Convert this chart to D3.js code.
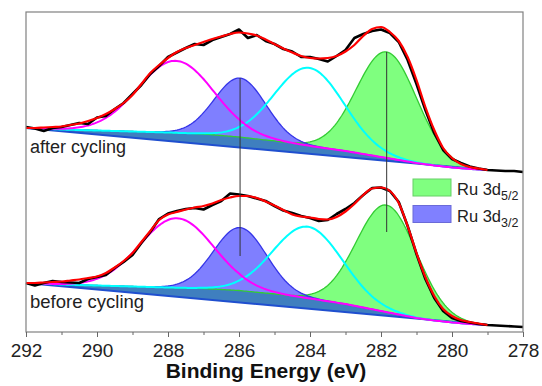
<!DOCTYPE html>
<html>
<head>
<meta charset="utf-8">
<script src="https://cdn.jsdelivr.net/npm/d3@7/dist/d3.min.js"></script>
<style>
  body { margin: 0; background: #fff; }
  text { font-family: "Liberation Sans", Arial, sans-serif; }
</style>
</head>
<body>
<svg id="chart" width="542" height="386"></svg>
<script>
// binding energies of the measured points (eV)
const energies = [292, 291.75, 291.5, 291.25, 291, 290.75, 290.5, 290.25, 290, 289.75, 289.5, 289.25,
  289, 288.75, 288.5, 288.25, 288, 287.75, 287.5, 287.25, 287, 286.75, 286.5, 286.25,
  286, 285.75, 285.5, 285.25, 285, 284.75, 284.5, 284.25, 284, 283.75, 283.5, 283.25,
  283, 282.75, 282.5, 282.25, 282, 281.75, 281.5, 281.25, 281, 280.75, 280.5, 280.25,
  280, 279.75, 279.5, 279.25, 279, 278.75, 278.5, 278.25, 278];

// raw spectra (a.u., stacked)
const afterRaw = [204, 202.5, 200, 203, 204, 206, 208, 207, 213.5, 215, 222, 228,
  237, 246, 257, 265, 274, 278.5, 283, 287, 286, 291, 294, 297,
  301.5, 293, 296, 290, 287, 282, 279.5, 274, 274, 272, 269.5, 275,
  281, 293, 297, 300, 301.5, 298, 289, 271, 247, 221, 198, 181,
  172, 168, 164.5, 162.5, 161, 160.5, 160, 160, 159];
const beforeRaw = [48, 45.5, 48, 50, 49, 48.5, 48, 52, 54, 56, 63, 69,
  76, 88, 99, 112, 117.5, 120, 122, 123, 121.5, 126, 130, 137.5,
  136.5, 135, 132.5, 130, 125, 120.5, 118, 115, 113, 110, 111, 117,
  122, 128, 136, 143, 143.5, 140, 129, 105, 77, 52, 33, 20,
  13, 10, 8.5, 7, 6, 5.5, 5, 4.5, 4];

// fitted envelopes (292 .. 279 eV)
const afterFit = [203, 203, 203.5, 204, 204.5, 206, 207.5, 210, 213, 217, 222, 228,
  236, 247, 258, 266, 273, 279, 283, 286, 289, 292, 294.5, 297,
  298.5, 297.5, 295.5, 291.5, 287, 282.5, 278.5, 275, 273, 272.5, 273, 275,
  279.5, 286, 295, 302, 304, 299, 290, 274, 251, 224, 201, 183,
  173, 167, 164, 162.5, 161];
const beforeFit = [48, 48, 48.5, 49, 49.5, 50.5, 51.5, 53, 54.5, 58, 63.5, 70,
  78, 89, 100, 111, 116.5, 119, 121.5, 123.5, 125, 127.5, 131, 133.5,
  135, 135, 133, 129.5, 125.5, 121, 116.5, 114.5, 113.5, 112, 111.5, 114,
  119.5, 127, 136, 142.5, 143.5, 140, 128, 105, 78, 54, 35, 22,
  15, 11, 9, 7.5, 6];

// Shirley-type backgrounds
const bgEnergies = [292, 291, 290, 289, 288, 287, 286, 285, 284, 283, 282, 281.5, 281, 280.5, 280, 279.5, 279];
const afterBg = [203, 201.5, 200.5, 199.5, 198.5, 197, 194, 190, 185, 180, 174, 171, 168, 165.5, 163.5, 162, 161];
const beforeBg = [48, 46.5, 45.5, 44.5, 43.5, 42.5, 40.5, 37, 32.5, 27, 20, 16.5, 13, 10.5, 8.5, 7, 6];

// linear baselines (value at 292 eV and at 279 eV)
const linearEnergies = [292, 279];
const afterLinear = [203, 161];
const beforeLinear = [48, 6];

// fitted components: C 1s (high BE), Ru 3d3/2, C 1s (C-C), Ru 3d5/2
const peakKeys = ['c1', 'ru32', 'c2', 'ru52'];
const afterCenter = [287.78, 285.97, 284.02, 281.84];
const afterHeight = [72, 59, 78, 106];
const afterFwhm = [2.5, 1.7, 2.3, 2.0];
const beforeCenter = [287.75, 285.97, 284.06, 281.84];
const beforeHeight = [69.5, 63, 71.5, 107];
const beforeFwhm = [2.45, 1.75, 2.3, 2.0];

// marker lines through Ru peaks
const markerEnergies = [285.97, 281.84];
const markerLow = [75, 99];

const xTicks = [292, 290, 288, 286, 284, 282, 280, 278];
const xMinorTicks = [291, 289, 287, 285, 283, 281, 279];

const legendLabels = [['Ru 3d', '5/2'], ['Ru 3d', '3/2']];

const W = 542, H = 386;
const margin = { left: 26, right: 19, top: 12, bottom: 54 };

const svg = d3.select('#chart');

const x = d3.scaleLinear().domain([292, 278]).range([margin.left, W - margin.right]);
const y = d3.scaleLinear().domain([0, 319]).range([331, 12]);

const colors = { c1: '#ff00ff', ru32: '#0000ff', c2: '#00ffff', ru52: '#00ff00' };

function buildSpectrum(raw, fit, bg, lin, centers, heights, fwhms) {
  const bgScale = d3.scaleLinear().domain(bgEnergies).range(bg).clamp(true);
  const linScale = d3.scaleLinear().domain(linearEnergies).range(lin);
  const fine = d3.range(292, 278.999, -0.05);
  const comps = {};
  peakKeys.forEach((k, i) => {
    const s = fwhms[i] / 2.3548;
    comps[k] = fine.map(e => ({
      e: e,
      v: bgScale(e) + heights[i] * Math.exp(-((e - centers[i]) ** 2) / (2 * s * s)),
      base: linScale(e)
    }));
  });

  const g = svg.append('g');
  const area = d3.area().x(d => x(d.e)).y0(d => y(d.base)).y1(d => y(d.v));
  const line = d3.line().x(d => x(d.e)).y(d => y(d.v));

  // filled Ru doublet
  g.append('path').datum(comps.ru52).attr('d', area)
    .attr('fill', 'rgba(0,255,0,0.5)').attr('stroke', 'none');
  g.append('path').datum(comps.ru32).attr('d', area)
    .attr('fill', 'rgba(0,0,255,0.5)').attr('stroke', 'none');
  g.append('path').datum(comps.ru52).attr('d', line)
    .attr('fill', 'none').attr('stroke', '#33cc33').attr('stroke-width', 1.3);
  g.append('path').datum(comps.ru32).attr('d', line)
    .attr('fill', 'none').attr('stroke', '#3535e8').attr('stroke-width', 1.3);

  // linear baseline
  g.append('path').datum(linearEnergies.map((e, i) => ({ e: e, v: lin[i] })))
    .attr('d', line).attr('fill', 'none').attr('stroke', '#1f4fcf').attr('stroke-width', 2);

  // carbon components
  ['c2', 'c1'].forEach(k => {
    g.append('path').datum(comps[k]).attr('d', line)
      .attr('fill', 'none').attr('stroke', colors[k]).attr('stroke-width', 2);
  });

  // measured data
  g.append('path').datum(energies.map((e, i) => ({ e: e, v: raw[i] })))
    .attr('d', line).attr('fill', 'none').attr('stroke', '#000').attr('stroke-width', 2.6)
    .attr('stroke-linejoin', 'round');

  // fit envelope
  g.append('path').datum(fit.map((v, i) => ({ e: energies[i], v: v })))
    .attr('d', line.curve(d3.curveMonotoneX)).attr('fill', 'none').attr('stroke', '#ff0000')
    .attr('stroke-width', 2.2);

  return { bgScale: bgScale };
}

const afterSpec = buildSpectrum(afterRaw, afterFit, afterBg, afterLinear, afterCenter, afterHeight, afterFwhm);
buildSpectrum(beforeRaw, beforeFit, beforeBg, beforeLinear, beforeCenter, beforeHeight, beforeFwhm);

// vertical marker lines
svg.append('g').selectAll('line').data(markerEnergies).join('line')
  .attr('x1', d => x(d)).attr('x2', d => x(d))
  .attr('y1', (d, i) => y(afterSpec.bgScale(d) + afterHeight[i === 0 ? 1 : 3]))
  .attr('y2', (d, i) => y(markerLow[i]))
  .attr('stroke', '#333').attr('stroke-width', 1);

// frame
svg.append('rect')
  .attr('x', margin.left).attr('y', margin.top)
  .attr('width', W - margin.left - margin.right).attr('height', 332 - margin.top)
  .attr('fill', 'none').attr('stroke', '#808080').attr('stroke-width', 1.2);

// x axis
const axisG = svg.append('g').attr('transform', 'translate(0,332)');
axisG.call(d3.axisBottom(x).tickValues(xTicks).tickSize(5).tickSizeOuter(0).tickPadding(8)
  .tickFormat(d3.format('d')));
svg.append('g').attr('transform', 'translate(0,332)')
  .call(d3.axisBottom(x).tickValues(xMinorTicks).tickSize(3).tickSizeOuter(0).tickFormat(''))
  .call(a => a.select('.domain').remove());
svg.selectAll('.tick line').attr('stroke', '#666');
axisG.select('.domain').remove();
axisG.selectAll('text').attr('font-size', 19).attr('fill', '#222').attr('dy', '0.62em')
  .style('font-family', '"Liberation Sans", Arial, sans-serif');

svg.append('text').attr('x', 266).attr('y', 378).attr('text-anchor', 'middle')
  .attr('font-size', 21).attr('font-weight', 'bold').attr('fill', '#111')
  .text('Binding Energy (eV)');

// spectrum labels
svg.append('text').attr('x', 30).attr('y', 152.5).attr('font-size', 18).attr('fill', '#222').text('after cycling');
svg.append('text').attr('x', 30).attr('y', 308).attr('font-size', 18.5).attr('fill', '#222').text('before cycling');

// legend
const legend = svg.append('g').attr('transform', 'translate(413,179)');
const legendFill = ['#80ff80', '#8080ff'];
const legendStroke = ['#66d066', '#6a6ad8'];
const item = legend.selectAll('g').data(legendLabels).join('g')
  .attr('transform', (d, i) => `translate(0,${i * 26.5})`);
item.append('rect').attr('width', 38).attr('height', 17)
  .attr('fill', (d, i) => legendFill[i]).attr('stroke', (d, i) => legendStroke[i]);
const lt = item.append('text').attr('x', 44).attr('y', 16).attr('font-size', 16.5).attr('fill', '#222');
lt.append('tspan').text(d => d[0]);
lt.append('tspan').attr('dy', 5).attr('font-size', 12.5).text(d => d[1]);
</script>
</body>
</html>
